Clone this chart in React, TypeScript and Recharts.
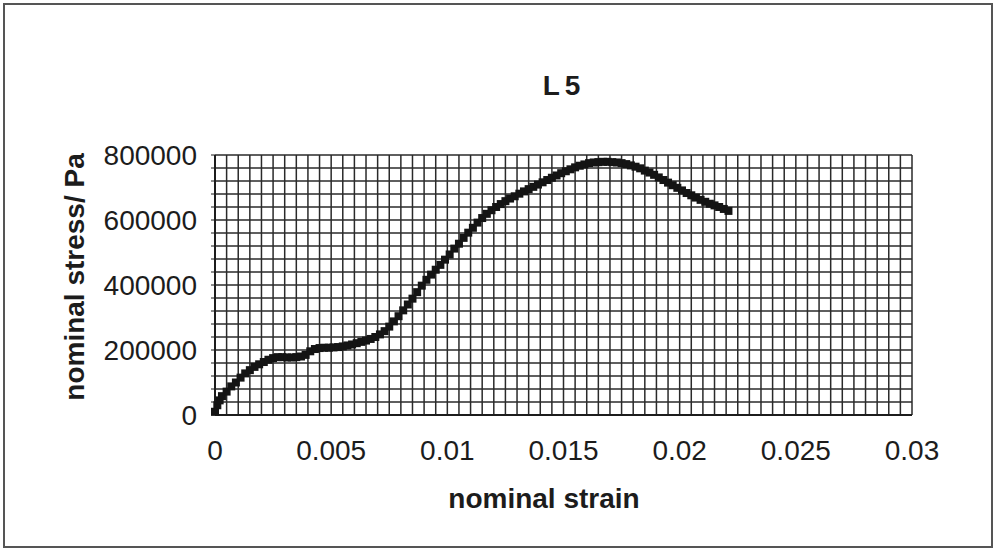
import { CartesianGrid, Scatter, ScatterChart, XAxis, YAxis } from 'recharts';

// strain / stress
const strain = [
  0.0, 0.0001, 0.0002, 0.0003, 0.0005, 0.0007, 0.0009, 0.0011, 0.0013, 0.0015,
  0.0017, 0.0019, 0.0021, 0.0023, 0.0025, 0.0027, 0.0029, 0.0031, 0.0033, 0.0035,
  0.0037, 0.0039, 0.0041, 0.0043, 0.0045, 0.0047, 0.0049, 0.0051, 0.0053, 0.0055,
  0.0057, 0.0059, 0.0061, 0.0063, 0.0065, 0.0067, 0.0069, 0.0071, 0.0073, 0.0075,
  0.0077, 0.0079, 0.0081, 0.0083, 0.0085, 0.0087, 0.0089, 0.0091, 0.0093, 0.0095,
  0.0097, 0.0099, 0.0101, 0.0103, 0.0105, 0.0107, 0.0109, 0.0111, 0.0113, 0.0115,
  0.0117, 0.0119, 0.0121, 0.0123, 0.0125, 0.0127, 0.0129, 0.0131, 0.0133, 0.0135,
  0.0137, 0.0139, 0.0141, 0.0143, 0.0145, 0.0147, 0.0149, 0.0151, 0.0153, 0.0155,
  0.0157, 0.0159, 0.0161, 0.0163, 0.0165, 0.0167, 0.0169, 0.0171, 0.0173, 0.0175,
  0.0177, 0.0179, 0.0181, 0.0183, 0.0185, 0.0187, 0.0189, 0.0191, 0.0193, 0.0195,
  0.0197, 0.0199, 0.0201, 0.0203, 0.0205, 0.0207, 0.0209, 0.0211, 0.0213, 0.0215,
  0.0217, 0.0219, 0.0221,
];

const stress = [
  10000, 30000, 45000, 58000, 72000, 88000, 100000, 115000, 128000, 138000,
  148000, 156000, 163000, 170000, 175000, 178000, 178000, 177000, 177000, 178000,
  180000, 185000, 196000, 203000, 206000, 207000, 207000, 208000, 209000, 211000,
  214000, 217000, 221000, 225000, 229000, 234000, 240000, 248000, 258000, 272000,
  288000, 304000, 322000, 340000, 358000, 378000, 398000, 416000, 432000, 447000,
  462000, 478000, 494000, 512000, 527000, 545000, 561000, 576000, 592000, 606000,
  619000, 630000, 640000, 649000, 658000, 666000, 673000, 681000, 688000, 695000,
  702000, 709000, 716000, 723000, 730000, 737000, 744000, 750000, 756000, 762000,
  767000, 771000, 775000, 777000, 778000, 779000, 779000, 778000, 777000, 775000,
  772000, 768000, 764000, 759000, 752000, 746000, 739000, 731000, 723000, 715000,
  707000, 699000, 691000, 683000, 676000, 669000, 662000, 656000, 650000, 645000,
  640000, 634000, 628000,
];

// major ticks get a label, minor ticks only feed the dense grid
const xMajor = [0, 0.005, 0.01, 0.015, 0.02, 0.025, 0.03];
const yMajor = [0, 200000, 400000, 600000, 800000];
const xTicks = Array.from({ length: 61 }, (_, i) => i * 0.0005);
const yTicks = Array.from({ length: 21 }, (_, i) => i * 40000);

const points = strain.map((x, i) => ({ strain: x, stress: stress[i] }));

const FONT = '"Liberation Sans", Arial, sans-serif';
const INK = '#1c1c1c';

const isMajor = (v: number, list: number[]) =>
  list.some((m) => Math.abs(m - v) < 1e-9 * Math.max(1, m));

const Square = (p: any) => (
  <rect x={p.cx - 4} y={p.cy - 4} width={8} height={8} fill="#141414" />
);

export default function App() {
  return (
    <div
      style={{
        position: 'absolute',
        left: 0,
        top: 0,
        width: 995,
        height: 551,
        background: '#fff',
        fontFamily: FONT,
      }}
    >
      <div
        style={{
          position: 'absolute',
          left: 3,
          top: 3,
          width: 986,
          height: 541,
          border: '2px solid #555',
        }}
      />
      <ScatterChart
        width={995}
        height={551}
        margin={{ top: 155, right: 83, bottom: 106, left: 105 }}
      >
        <CartesianGrid stroke="#2a2a2a" strokeWidth={1.5} />
        <XAxis
          type="number"
          dataKey="strain"
          domain={[0, 0.03]}
          ticks={xTicks}
          interval={0}
          height={30}
          tickSize={4}
          tickMargin={21}
          tickLine={false}
          axisLine={{ stroke: INK, strokeWidth: 2 }}
          tick={{ fontSize: 28, fill: INK, fontFamily: FONT }}
          tickFormatter={(v: number) =>
            isMajor(v, xMajor) ? String(+v.toFixed(3)) : ''
          }
        />
        <YAxis
          type="number"
          dataKey="stress"
          domain={[0, 800000]}
          ticks={yTicks}
          interval={0}
          width={110}
          tickSize={4}
          tickMargin={14}
          tickLine={{ stroke: INK }}
          axisLine={{ stroke: INK, strokeWidth: 2 }}
          tick={{ fontSize: 28, fill: INK, fontFamily: FONT }}
          tickFormatter={(v: number) => (isMajor(v, yMajor) ? String(v) : '')}
        />
        <Scatter data={points} shape={Square} isAnimationActive={false} />
      </ScatterChart>
      <div
        style={{
          position: 'absolute',
          left: 464,
          top: 70,
          width: 200,
          textAlign: 'center',
          fontSize: 28,
          fontWeight: 'bold',
          letterSpacing: 5,
          color: INK,
        }}
      >
        L5
      </div>
      <div
        style={{
          position: 'absolute',
          left: 394,
          top: 483,
          width: 300,
          textAlign: 'center',
          fontSize: 28,
          fontWeight: 'bold',
          color: INK,
        }}
      >
        nominal strain
      </div>
      <div
        style={{
          position: 'absolute',
          left: 75 - 170,
          top: 278 - 17,
          width: 340,
          textAlign: 'center',
          fontSize: 28,
          fontWeight: 'bold',
          color: INK,
          transform: 'rotate(-90deg)',
        }}
      >
        nominal stress/ Pa
      </div>
    </div>
  );
}
